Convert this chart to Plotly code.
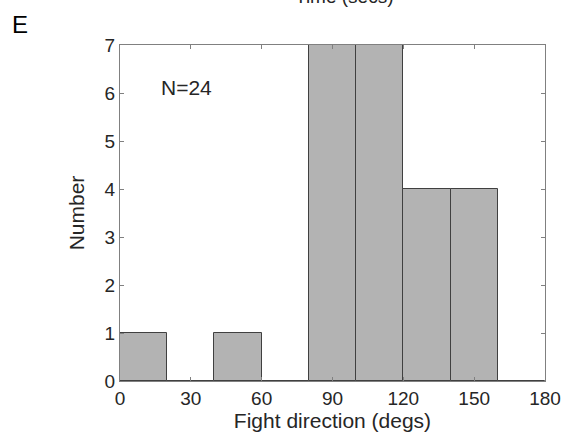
import plotly.graph_objects as go

bin_starts = [0, 20, 40, 60, 80, 100, 120, 140, 160]
counts = [1, 0, 1, 0, 7, 7, 4, 4, 0]
bin_width = 20
x_ticks = [0, 30, 60, 90, 120, 150, 180]
y_ticks = [0, 1, 2, 3, 4, 5, 6, 7]

centers = [s + bin_width / 2 for s in bin_starts]

FONT = "Liberation Sans, Arial"

fig = go.Figure()
fig.add_trace(go.Bar(
    x=centers, y=counts, width=[bin_width] * len(counts),
    marker=dict(color="#b3b3b3", line=dict(color="#404040", width=1)),
    showlegend=False, hoverinfo="skip",
))

axis_common = dict(
    showline=True, linecolor="#808080", linewidth=1, mirror="ticks",
    ticks="inside", ticklen=4, tickcolor="#808080", showgrid=False, zeroline=False,
    automargin=False,
    tickfont=dict(family=FONT, size=19, color="#262626"),
)

fig.update_layout(
    width=563, height=439,
    margin=dict(l=120, r=18, t=45, b=58, autoexpand=False),
    plot_bgcolor="white", paper_bgcolor="white",
    bargap=0,
    xaxis=dict(range=[0, 180], tickvals=x_ticks, **axis_common,
               title=dict(text="Fight direction (degs)", standoff=0,
                          font=dict(family=FONT, size=21, color="#262626"))),
    yaxis=dict(range=[0, 7], tickvals=y_ticks, **axis_common,
               title=dict(text="Number", standoff=14,
                          font=dict(family=FONT, size=21, color="#262626"))),
    annotations=[
        dict(text="N=24", x=28, y=6.12, xref="x", yref="y", showarrow=False,
             font=dict(family=FONT, size=21, color="#262626")),
        dict(text="E", x=-110 / 425, y=1 + 21 / 336, xref="paper", yref="paper",
             xanchor="left", yanchor="middle", showarrow=False,
             font=dict(family=FONT, size=24, color="#000000")),
        dict(text="Time (secs)", x=224 / 425, y=1 + 36 / 336, xref="paper", yref="paper",
             xanchor="center", yanchor="bottom", showarrow=False,
             font=dict(family=FONT, size=19, color="#262626")),
    ],
)

fig.write_html("out.html", config={"displayModeBar": False},
               post_script="document.body.style.margin='0';")
